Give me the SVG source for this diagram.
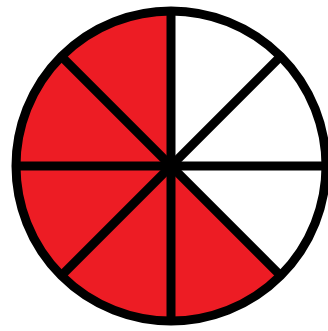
<svg xmlns="http://www.w3.org/2000/svg" width="328" height="331" viewBox="0 0 328 331">
<style>
.line{stroke:#000;stroke-width:9;stroke-linecap:butt}
</style>
<rect width="328" height="331" fill="#fff"/>
<g id="pie">
<circle cx="171" cy="166" r="155" fill="#fff"/>
<path d="M171,166 L171,11 A155,155 0 1 0 280.6,275.6 Z" fill="#ED1C24"/>
</g>
<g id="dividers">
<line class="line" x1="171" y1="11" x2="171" y2="321"/>
<line class="line" x1="16" y1="166" x2="326" y2="166"/>
<line class="line" x1="61.4" y1="56.4" x2="280.6" y2="275.6"/>
<line class="line" x1="280.6" y1="56.4" x2="61.4" y2="275.6"/>
<circle cx="171" cy="166" r="155" fill="none" stroke="#000" stroke-width="9"/>
</g>
</svg>
